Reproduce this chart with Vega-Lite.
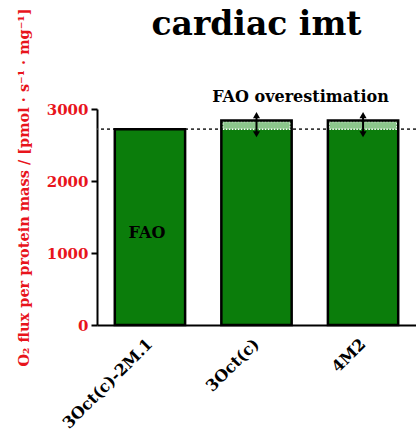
{
  "$schema": "https://vega.github.io/schema/vega-lite/v6.json",
  "autosize": {"type": "none"},
  "width": 319,
  "height": 216,
  "padding": {"left": 97, "top": 109, "right": 0, "bottom": 111},
  "background": "white",
  "config": {"axis": {"grid": false}, "view": {"stroke": null}},
  "title": {
    "text": "cardiac imt",
    "font": "DejaVu Serif",
    "fontSize": 33,
    "fontWeight": "bold",
    "color": "black",
    "baseline": "alphabetic",
    "offset": -60
  },
  "datasets": {
    "bars": [
      {"group": "3Oct(c)-2M.1", "flux": 2720, "fao": 2720, "over": 2720, "arrowLo": null, "arrowHi": null},
      {"group": "3Oct(c)", "flux": 2840, "fao": 2720, "over": 2825, "arrowLo": 2650, "arrowHi": 2915},
      {"group": "4M2", "flux": 2840, "fao": 2720, "over": 2825, "arrowLo": 2650, "arrowHi": 2915}
    ],
    "notes": [
      {"group": "3Oct(c)", "value": 3100, "label": "FAO overestimation", "kind": "over"},
      {"group": "3Oct(c)-2M.1", "value": 1208, "label": "FAO", "kind": "fao"}
    ]
  },
  "encoding": {
    "x": {
      "field": "group",
      "type": "nominal",
      "sort": null,
      "scale": {"paddingInner": 0.34, "paddingOuter": 0.167},
      "axis": {
        "title": null,
        "ticks": false,
        "domainColor": "black",
        "domainWidth": 2,
        "labelAngle": -45,
        "labelAlign": "right",
        "labelBaseline": "middle",
        "labelPadding": 16,
        "labelFont": "DejaVu Serif",
        "labelFontWeight": "bold",
        "labelFontSize": 16,
        "labelColor": "black"
      }
    }
  },
  "layer": [
    {
      "data": {"name": "bars"},
      "mark": {"type": "rule", "strokeDash": [3, 3], "strokeWidth": 1, "color": "#333333"},
      "encoding": {
        "x": null,
        "y": {
          "field": "fao",
          "type": "quantitative",
          "scale": {"domain": [0, 3000], "nice": false},
          "axis": {
            "values": [0, 1000, 2000, 3000],
            "format": "d",
            "grid": false,
            "domainColor": "black",
            "domainWidth": 2,
            "tickColor": "black",
            "tickWidth": 2,
            "tickSize": 6,
            "labelFont": "DejaVu Serif",
            "labelFontWeight": "bold",
            "labelFontSize": 15,
            "labelColor": "#e8141c",
            "labelPadding": 3,
            "title": "O₂ flux per protein mass / [pmol · s⁻¹ · mg⁻¹]",
            "titleFont": "DejaVu Serif",
            "titleFontWeight": "bold",
            "titleFontSize": 14.5,
            "titleColor": "#e8141c",
            "titleAngle": 270,
            "titleAlign": "center",
            "titleBaseline": "middle",
            "titleX": -73,
            "titleY": 78
          }
        }
      }
    },
    {
      "data": {"name": "bars"},
      "mark": {"type": "bar", "color": "#0b7d0b", "stroke": null},
      "encoding": {
        "y": {"field": "flux", "type": "quantitative"}
      }
    },
    {
      "data": {"name": "bars"},
      "transform": [{"filter": "datum.flux > datum.fao"}],
      "mark": {"type": "bar", "fill": "#8cc68c", "stroke": "white", "strokeWidth": 1.5, "strokeDash": [1.5, 1.5], "width": {"band": 0.96}},
      "encoding": {
        "y": {"field": "fao", "type": "quantitative"},
        "y2": {"field": "over"}
      }
    },
    {
      "data": {"name": "bars"},
      "mark": {"type": "bar", "fill": "transparent", "stroke": "black", "strokeWidth": 2.5},
      "encoding": {
        "y": {"field": "flux", "type": "quantitative"}
      }
    },
    {
      "data": {"name": "bars"},
      "transform": [{"filter": "datum.arrowLo != null"}],
      "mark": {"type": "rule", "color": "black", "strokeWidth": 2},
      "encoding": {
        "y": {"field": "arrowLo", "type": "quantitative"},
        "y2": {"field": "arrowHi"}
      }
    },
    {
      "data": {"name": "bars"},
      "transform": [{"filter": "datum.arrowLo != null"}],
      "mark": {"type": "point", "shape": "triangle-up", "filled": true, "color": "black", "size": 50, "opacity": 1},
      "encoding": {
        "y": {"field": "arrowHi", "type": "quantitative"}
      }
    },
    {
      "data": {"name": "bars"},
      "transform": [{"filter": "datum.arrowLo != null"}],
      "mark": {"type": "point", "shape": "triangle-down", "filled": true, "color": "black", "size": 50, "opacity": 1},
      "encoding": {
        "y": {"field": "arrowLo", "type": "quantitative"}
      }
    },
    {
      "data": {"name": "notes"},
      "transform": [{"filter": "datum.kind == 'over'"}],
      "mark": {"type": "text", "font": "DejaVu Serif", "fontWeight": "bold", "fontSize": 16, "color": "black", "baseline": "alphabetic", "align": "center", "dx": 44},
      "encoding": {
        "y": {"field": "value", "type": "quantitative"},
        "text": {"field": "label"}
      }
    },
    {
      "data": {"name": "notes"},
      "transform": [{"filter": "datum.kind == 'fao'"}],
      "mark": {"type": "text", "font": "DejaVu Serif", "fontWeight": "bold", "fontSize": 16, "color": "black", "baseline": "alphabetic", "align": "center", "dx": -3},
      "encoding": {
        "y": {"field": "value", "type": "quantitative"},
        "text": {"field": "label"}
      }
    }
  ]
}
